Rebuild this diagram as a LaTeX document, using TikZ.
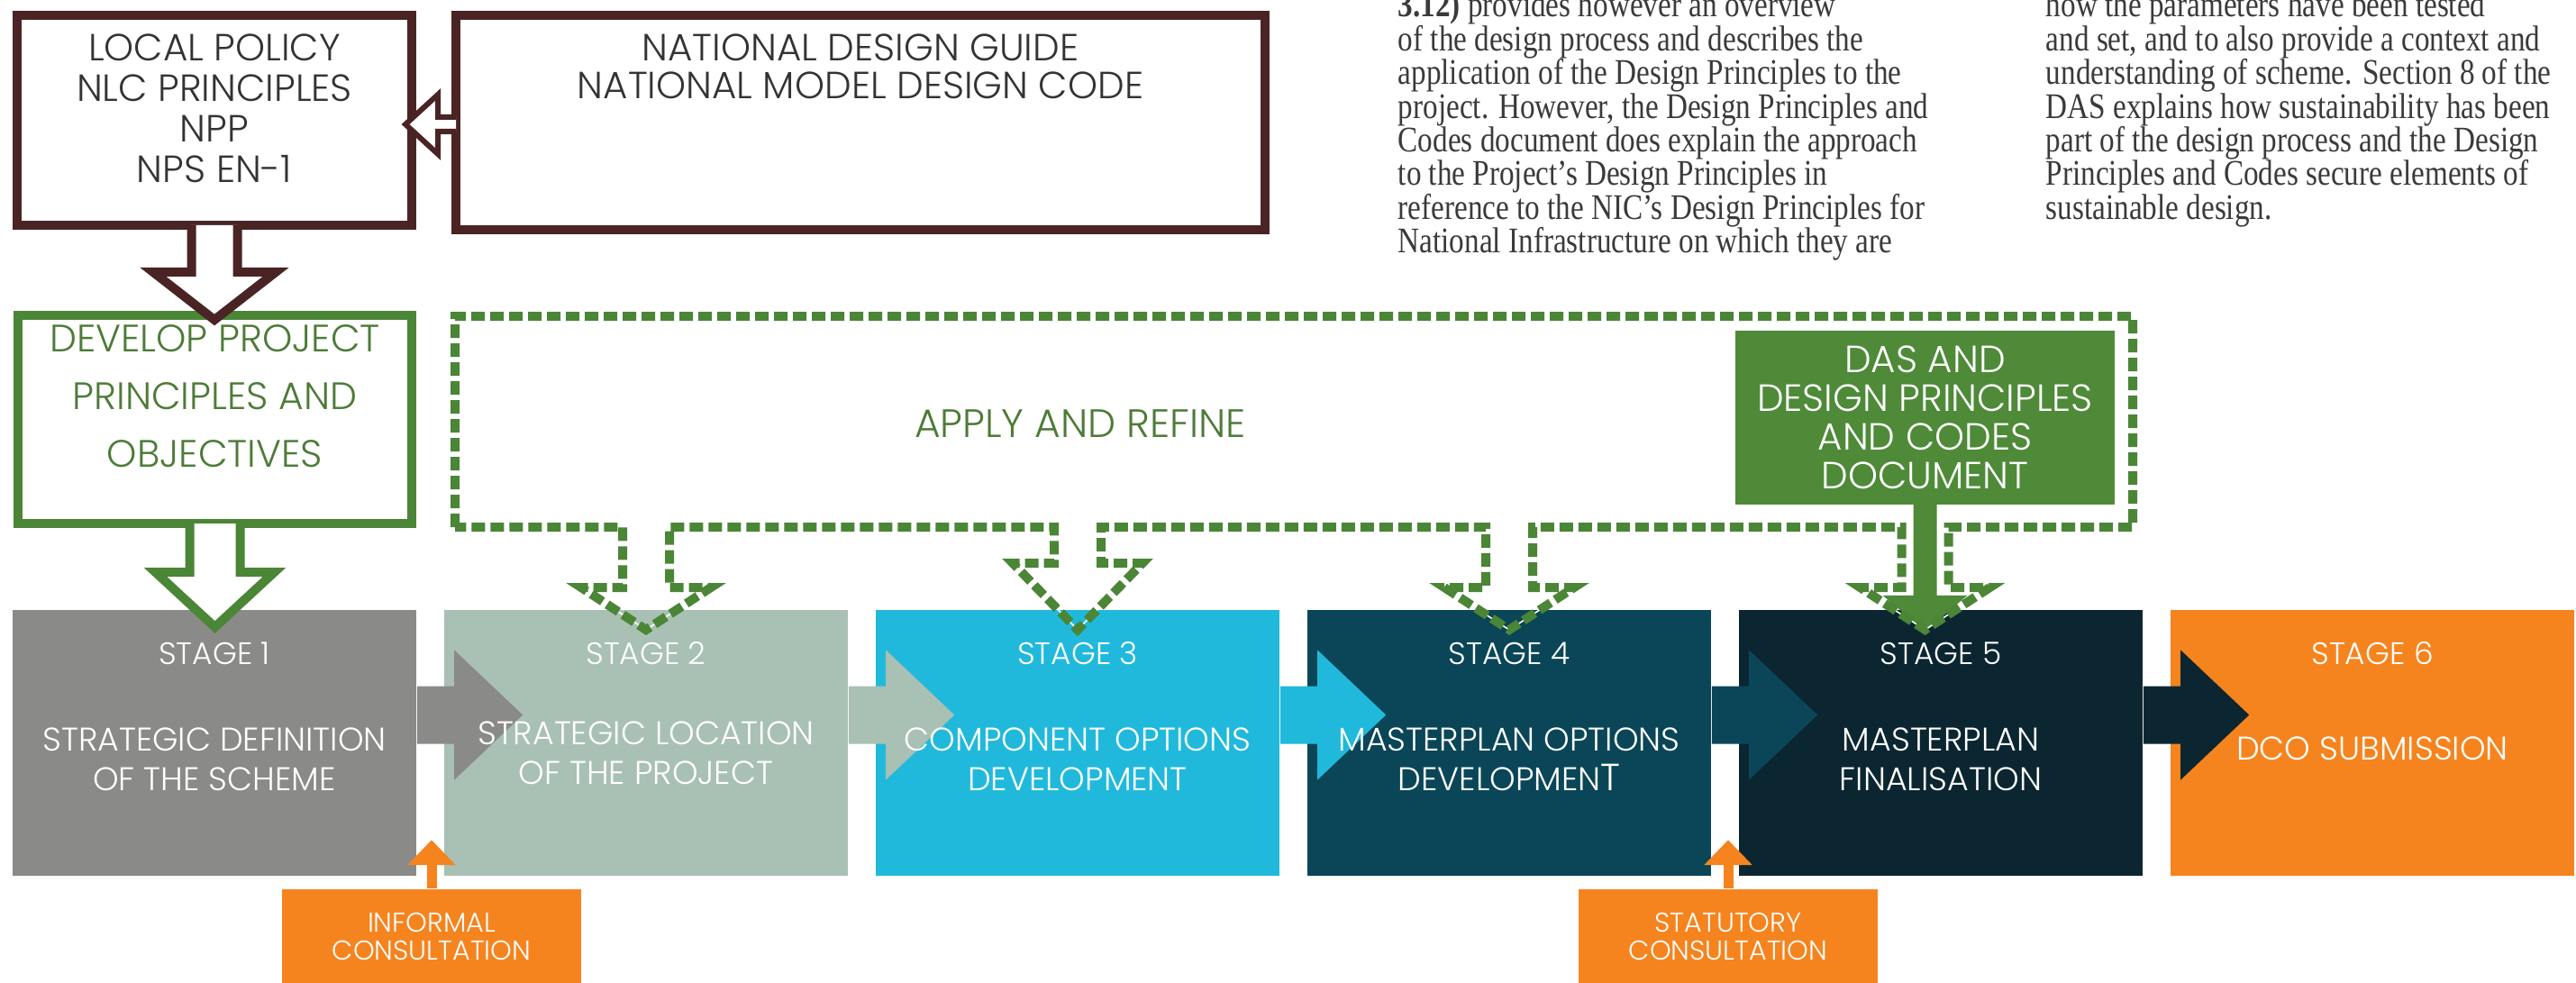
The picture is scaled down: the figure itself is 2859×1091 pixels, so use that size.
\documentclass[tikz,border=0pt]{standalone}
\usepackage{fontspec}
\setmainfont{Poppins Light}
\newfontfamily\bodyserif[FakeStretch=0.83]{Liberation Serif}
\usetikzlibrary{positioning,arrows.meta,calc}
\definecolor{policybrown}{HTML}{4A2424}
\definecolor{refgreen}{HTML}{4B8536}
\definecolor{dasgreen}{HTML}{4E8A38}
\definecolor{textgreen}{HTML}{4D7B38}
\definecolor{stageone}{HTML}{8A8A89}
\definecolor{stagetwo}{HTML}{A9C0B5}
\definecolor{stagethree}{HTML}{21B9DB}
\definecolor{stagefour}{HTML}{0A4657}
\definecolor{stagefive}{HTML}{0B2631}
\definecolor{stagesix}{HTML}{F5841F}
\definecolor{consorange}{HTML}{F5841F}
\definecolor{bodygrey}{HTML}{3A3A3A}
\tikzset{
  policy/.style     = {rectangle, draw=policybrown, line width=2.5pt, inner sep=0pt},
  policytext/.style = {align=center, text=black!80, inner sep=0pt,
                       font=\fontsize{10.5pt}{11.25pt}\selectfont},
  devbox/.style     = {rectangle, draw=refgreen, line width=2.5pt, inner sep=0pt,
                       minimum width=109.25pt, minimum height=57.75pt},
  devtext/.style    = {align=center, text=textgreen, inner sep=0pt,
                       font=\fontsize{10.6pt}{16pt}\selectfont},
  stagebox/.style   = {rectangle, inner sep=0pt, minimum width=112pt, minimum height=73.75pt},
  stagetitle/.style = {text=white, inner sep=0pt, font=\fontsize{8.6pt}{9pt}\selectfont},
  stagedesc/.style  = {align=center, text=white, inner sep=0pt,
                       font=\fontsize{9.1pt}{11pt}\selectfont},
  dasbox/.style     = {rectangle, fill=dasgreen, align=center, text=white, inner sep=0pt,
                       minimum width=105.25pt, minimum height=48.25pt,
                       font=\fontsize{10.5pt}{10.75pt}\selectfont},
  refinetext/.style = {text=textgreen, inner sep=0pt, font=\fontsize{11pt}{12pt}\selectfont},
  consbox/.style    = {rectangle, fill=consorange, align=center, text=white, inner sep=0pt,
                       minimum width=83pt, minimum height=26pt,
                       font=\fontsize{7.55pt}{7.75pt}\selectfont},
  hollow/.style     = {fill=white, line width=2.5pt},
  refine/.style     = {draw=refgreen, line width=2.5pt, dash pattern=on 3.75pt off 1.5pt,
                       preaction={draw=white, solid}},
  consarrow/.style  = {draw=consorange, line width=2.75pt, -{Triangle[width=13pt, length=7pt]}},
  bodytext/.style   = {anchor=base west, text=bodygrey, inner sep=0pt,
                       font=\bodyserif\fontsize{10pt}{9.4pt}\selectfont},
}

\begin{document}
\begin{tikzpicture}[x=0.25pt, y=-0.25pt, node distance=7.35pt]
  \useasboundingbox (0,0) rectangle (2859,1091);
  \fill[white] (0,0) rectangle (2859,1091);

  % page text beside the figure
  \begin{scope}
    \clip (0,0) rectangle (2859,1091);
    \foreach [count=\k from 0] \ln in {{\textbf{3.12)} provides however an overview},
        {of the design process and describes the},
        {application of the Design Principles to the},
        {project. However, the Design Principles and},
        {Codes document does explain the approach},
        {to the Project’s Design Principles in},
        {reference to the NIC’s Design Principles for},
        {National Infrastructure on which they are}}
      \node[bodytext] (colA\k) at (1551,19+37.4*\k) {\ln};
    \foreach [count=\k from 0] \ln in {{how the parameters have been tested},
        {and set, and to also provide a context and},
        {understanding of scheme. Section 8 of the},
        {DAS explains how sustainability has been},
        {part of the design process and the Design},
        {Principles and Codes secure elements of},
        {sustainable design.}}
      \node[bodytext] (colB\k) at (2270,19+37.4*\k) {\ln};
  \end{scope}

  % policy sources
  \node[policy, minimum width=109.5pt, minimum height=58.25pt] (local) at (238,133.5) {};
  \node[policy, minimum width=224.5pt, minimum height=59.5pt] (national) at (955,136) {};
  \node[policytext] (localtxt) at ($(local.center)+(0,-13)$) {LOCAL POLICY\\NLC PRINCIPLES\\NPP\\NPS EN-1};
  \node[policytext, font=\fontsize{10.5pt}{10.5pt}\selectfont] (nationaltxt) at ($(national.north)+(0,62)$) {NATIONAL DESIGN GUIDE\\NATIONAL MODEL DESIGN CODE};
  \path[hollow, draw=policybrown, line width=1.5pt]
    ($(national.west)+(5,-6)$) -- ++(-20,0) -- ++(0,-25) -- ($(national.west)+(-51,2)$)
    -- ($(national.west)+(-15,35)$) -- ++(0,-25) -- ++(20,0);

  % project principles
  \node[devbox] (develop) at (238.5,465.5) {};
  \node[devtext] (developtxt) at ($(develop.center)+(0,-25.5)$) {DEVELOP PROJECT\\PRINCIPLES AND\\OBJECTIVES};
  \path[hollow, draw=policybrown]
    ($(local.south)+(-25.5,-5)$) -- ++(0,52) -- ++(-42.5,0) -- ($(local.south)+(0,100)$)
    -- ($(local.south)+(68,47)$) -- ++(-42.5,0) -- ++(0,-52);

  % stages
  \node[stagebox, fill=stageone] (s1) at (238,824.5) {};
  \foreach \i/\j/\col in {2/1/stagetwo, 3/2/stagethree, 4/3/stagefour, 5/4/stagefive, 6/5/stagesix}
    \node[stagebox, fill=\col, right=of s\j] (s\i) {};
  \foreach \i/\j/\col in {1/2/stageone, 2/3/stagetwo, 3/4/stagethree, 4/5/stagefour, 5/6/stagefive}
    \fill[\col] ($(s\i.east)+(0,-63)$) -- ($(s\j.west)+(12,-63)$) -- ($(s\j.west)+(12,-103)$)
      -- ($(s\j.west)+(88,-31)$) -- ($(s\j.west)+(12,41)$) -- ($(s\j.west)+(12,1)$)
      -- ($(s\i.east)+(0,1)$) -- cycle;
  \foreach \i/\desc/\dy in {1/{STRATEGIC DEFINITION\\OF THE SCHEME}/167,
      2/{STRATEGIC LOCATION\\OF THE PROJECT}/160,
      3/{COMPONENT OPTIONS\\DEVELOPMENT}/167,
      4/{MASTERPLAN OPTIONS\\DEVELOPMEN{\fontsize{10.5pt}{10pt}\selectfont T}}/167,
      5/{MASTERPLAN\\FINALISATION}/167,
      6/{DCO SUBMISSION}/155}
  {
    \node[stagetitle] (t\i) at ($(s\i.north)+(0,49)$) {STAGE \i};
    \node[stagedesc] (d\i) at ($(s\i.north)+(0,\dy)$) {\desc};
  }
  \path[hollow, draw=refgreen]
    ($(develop.south)+(-28,-5)$) -- ++(0,54) -- ++(-38,0) -- ($(develop.south)+(0,110)$)
    -- ($(develop.south)+(66,49)$) -- ++(-38,0) -- ++(0,-54);

  % design code document and the refine loop
  \node[dasbox] (das) at (2136.5,463.5) {DAS AND\\DESIGN PRINCIPLES\\AND CODES\\DOCUMENT};
  \fill[dasgreen] ($(das.south)+(-13,-1)$) -- ++(0,101) -- ++(-34,0) -- ($(das.south)+(0,140)$)
    -- ($(das.south)+(47,100)$) -- ++(-34,0) -- ++(0,-101) -- cycle;
  \coordinate (fnw) at (505,351);
  \coordinate (fse) at (2367,585);
  \draw[refine] (fnw |- fse) -- (fnw) -- (fnw -| fse) -- (fse)
    \foreach \n/\l in {das/67, s4/67, s3/40, s2/67} {
      -- ($(\n.south |- fse)+(26,0)$) -- ++(0,\l) -- ++(46,0)
      -- ($(\n.south |- fse)+(0,114)$)
      -- ($(\n.south |- fse)+(-72,\l)$) -- ++(46,0) -- ++(0,-\l)
    } -- cycle;
  \node[refinetext] (apply) at (1199,470) {APPLY AND REFINE};

  % consultation
  \node[consbox] (informal) at (479,1039) {INFORMAL\\CONSULTATION};
  \node[consbox] (statutory) at (1918,1039) {STATUTORY\\CONSULTATION};
  \coordinate (informaltip) at ($(informal.north)+(0,-54)$);
  \coordinate (statutorytip) at ($(statutory.north)+(0,-54)$);
  \draw[consarrow] (informal.north) -- (informaltip);
  \draw[consarrow] (statutory.north) -- (statutorytip);
\end{tikzpicture}
\end{document}
